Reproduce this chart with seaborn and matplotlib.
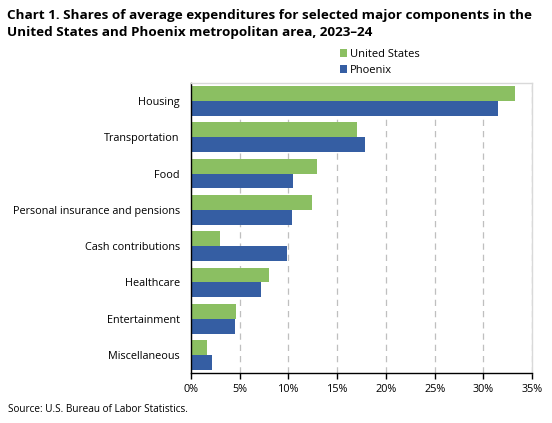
import pandas as pd
import seaborn as sns
import matplotlib.pyplot as plt
from matplotlib.ticker import PercentFormatter
from matplotlib.patches import Patch

# Data
categories = ["Housing", "Transportation", "Food", "Personal insurance and pensions",
              "Cash contributions", "Healthcare", "Entertainment", "Miscellaneous"]
us_share = [33.2, 17.0, 12.9, 12.4, 3.0, 8.0, 4.6, 1.6]
phoenix_share = [31.5, 17.9, 10.5, 10.4, 9.9, 7.2, 4.5, 2.2]
series = ["United States", "Phoenix"]

df = pd.DataFrame({
    "category": categories * 2,
    "share": us_share + phoenix_share,
    "area": [series[0]] * len(categories) + [series[1]] * len(categories),
})

sns.set_style("white")
plt.rcParams['font.family'] = ['Open Sans', 'DejaVu Sans']
plt.rcParams['text.color'] = 'black'
plt.rcParams['xtick.color'] = 'black'
plt.rcParams['ytick.color'] = 'black'

fig = plt.figure(figsize=(5.52, 4.23), dpi=100)
ax = fig.add_axes([0.346, 0.118, 0.618, 0.686])

palette = {"United States": "#8bbf62", "Phoenix": "#355ea3"}
sns.barplot(data=df, y="category", x="share", hue="area", palette=palette,
            order=categories, hue_order=series, width=0.82, saturation=1,
            orient="h", ax=ax, legend=False, linewidth=0)

ax.set_xlim(0, 35)
ax.set_ylim(7.5, -0.5)
ax.set_xticks(range(0, 36, 5))
ax.xaxis.set_major_formatter(PercentFormatter(decimals=0))
ax.set_xlabel("")
ax.set_ylabel("")
ax.tick_params(axis="y", length=0, labelsize=7.8, pad=8)
ax.tick_params(axis="x", direction="out", length=4, width=1, color="black",
               labelsize=7.8, bottom=True)
ax.grid(axis="x", linestyle=(0, (5, 4)), color="#bfbfbf", linewidth=0.9)
ax.set_axisbelow(True)
for side in ["top", "right"]:
    ax.spines[side].set_color("#d9d9d9")
    ax.spines[side].set_linewidth(1)
for side in ["left", "bottom"]:
    ax.spines[side].set_color("black")
    ax.spines[side].set_linewidth(1)

# legend
handles = [Patch(facecolor=palette[s], edgecolor="none") for s in series]
fig.legend(handles, series, loc="upper left", bbox_to_anchor=(0.607, 0.895),
           frameon=False, fontsize=8, handlelength=0.65, handleheight=0.65,
           handletextpad=0.3, labelspacing=0.45, borderaxespad=0)

fig.text(0.012, 0.978, "Chart 1. Shares of average expenditures for selected major components in the\n"
         "United States and Phoenix metropolitan area, 2023\u201324",
         fontsize=9.7, fontweight="bold", va="top", ha="left", linespacing=1.4)
fig.text(0.014, 0.018, "Source: U.S. Bureau of Labor Statistics.", fontsize=7.2, ha="left", va="bottom")

fig.savefig("out.png", dpi=100)
